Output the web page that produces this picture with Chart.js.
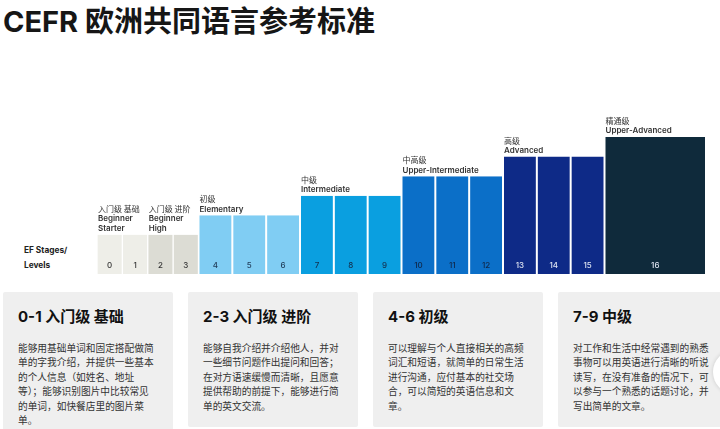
<!DOCTYPE html>
<html lang="zh-CN">
<head>
<meta charset="utf-8">
<title>CEFR 欧洲共同语言参考标准</title>
<script src="https://cdn.jsdelivr.net/npm/chart.js"></script>
<style>
  html, body { margin: 0; padding: 0; background: #fff; }
  body {
    width: 720px; height: 429px; position: relative; overflow: hidden;
    font-family: Inter, "Noto Sans CJK SC", sans-serif; color: #1a1a1a;
  }
  h1 {
    position: absolute; left: 3px; top: 6px; margin: 0;
    font-size: 29px; line-height: 32px; font-weight: 700; color: #161616;
  }
  #stages {
    position: absolute; left: 24px; top: 243px;
    font-size: 8.3px; line-height: 15px; font-weight: 700; color: #222;
  }
  #chart { position: absolute; left: 0; top: 60px; }
  .card {
    position: absolute; top: 292px; width: 170px; height: 135px;
    background: #efefef; border-radius: 2px; box-sizing: border-box;
    padding: 15px 0 0 15px;
  }
  .card h2 { margin: 0; font-size: 15px; line-height: 20px; font-weight: 700; color: #111; }
  .card p {
    margin: 14px 0 0; font-size: 9.7px; line-height: 14.4px; color: #333;
    white-space: nowrap; font-family: "Noto Sans CJK SC", sans-serif;
  }
  #next {
    position: absolute; left: 713px; top: 350px; width: 44px; height: 44px;
    border-radius: 50%; background: #fff; box-shadow: 0 0 4px rgba(0,0,0,0.15);
  }
</style>
</head>
<body>
<h1>CEFR 欧洲共同语言参考标准</h1>
<div id="stages">EF Stages/<br>Levels</div>
<canvas id="chart" width="720" height="220"></canvas>

<div class="card" style="left:3px;height:140px">
  <h2>0-1 入门级 基础</h2>
  <p>能够用基础单词和固定搭配做简<br>单的字我介绍，并提供一些基本<br>的个人信息（如姓名、地址<br>等）；能够识别图片中比较常见<br>的单词，如快餐店里的图片菜<br>单。</p>
</div>
<div class="card" style="left:188px">
  <h2>2-3 入门级 进阶</h2>
  <p>能够自我介绍并介绍他人，并对<br>一些细节问题作出提问和回答；<br>在对方语速缓慢而清晰，且愿意<br>提供帮助的前提下，能够进行简<br>单的英文交流。</p>
</div>
<div class="card" style="left:373px">
  <h2>4-6 初级</h2>
  <p>可以理解与个人直接相关的高频<br>词汇和短语，就简单的日常生活<br>进行沟通，应付基本的社交场<br>合，可以简短的英语信息和文<br>章。</p>
</div>
<div class="card" style="left:558px">
  <h2>7-9 中级</h2>
  <p>对工作和生活中经常遇到的熟悉<br>事物可以用英语进行清晰的听说<br>读写，在没有准备的情况下，可<br>以参与一个熟悉的话题讨论，并<br>写出简单的文章。</p>
</div>
<div id="next"></div>

<script>
// EF levels 0-16, the step height of each level and how wide it sits on the scale
const levels = ['0', '1', '2', '3', '4', '5', '6', '7', '8', '9', '10', '11', '12', '13', '14', '15', '16'];
const levelHeights = [2, 2, 2, 2, 3, 3, 3, 4, 4, 4, 5, 5, 5, 6, 6, 6, 7];
const levelSpans = [0.75, 0.75, 0.75, 0.75, 1, 1, 1, 1, 1, 1, 1, 1, 1, 1, 1, 1, 3];
const levelGroup = [0, 0, 1, 1, 2, 2, 2, 3, 3, 3, 4, 4, 4, 5, 5, 5, 6];

// CEFR stage names
const groupZh = ['入门级 基础', '入门级 进阶', '初级', '中级', '中高级', '高级', '精通级'];
const groupEn = [['Beginner', 'Starter'], ['Beginner', 'High'], ['Elementary'], ['Intermediate'],
  ['Upper-Intermediate'], ['Advanced'], ['Upper-Advanced']];

const groupColors = ['#eeeee8', '#dcdcd4', '#80cdf3', '#0a9fe0', '#0b6fc8', '#0e2a87', '#0f2a3b'];
const numberColors = ['#333', '#333', '#1f3b57', '#14314f', '#10284a', '#dfe5f2', '#dfe5f2'];

// bar centres from the cumulative spans
const centers = [];
let edge = 0;
levelSpans.forEach(s => { centers.push(edge + s / 2); edge += s; });
const totalSpan = edge;
let minGap = Infinity;
for (let i = 1; i < centers.length; i++) minGap = Math.min(minGap, centers[i] - centers[i - 1]);

const datasets = groupZh.map((name, g) => {
  const idx = levels.map((_, i) => i).filter(i => levelGroup[i] === g);
  return {
    label: name,
    data: idx.map(i => ({ x: centers[i], y: levelHeights[i], level: levels[i] })),
    backgroundColor: groupColors[g],
    borderColor: '#fff',
    borderWidth: { left: 1, right: 1, top: 0, bottom: 0 },
    borderSkipped: false,
    grouped: false,
    categoryPercentage: 1,
    // non-grouped bars are sized relative to the smallest gap between centres
    barPercentage: levelSpans[idx[0]] / minGap
  };
});

// stage names above each group and level numbers inside the bars
const stageLabels = {
  id: 'stageLabels',
  afterDatasetsDraw(chart) {
    const ctx = chart.ctx;
    ctx.save();
    chart.data.datasets.forEach((ds, g) => {
      const bars = chart.getDatasetMeta(g).data;
      ctx.textBaseline = 'middle';
      ctx.textAlign = 'center';
      ctx.font = '500 8px Inter, sans-serif';
      ctx.fillStyle = numberColors[g];
      bars.forEach((bar, k) => ctx.fillText(ds.data[k].level, bar.x, bar.base - 8));

      const first = bars[0];
      const left = first.x - first.width / 2 + 1;
      const lines = [groupZh[g], ...groupEn[g]];
      ctx.textAlign = 'left';
      ctx.fillStyle = '#333';
      lines.forEach((t, k) => {
        ctx.font = k === 0 ? '400 8px "Noto Sans CJK SC", sans-serif' : '600 8px Inter, sans-serif';
        ctx.fillText(t, left, first.y - 6 - (lines.length - 1 - k) * 10);
      });
    });
    ctx.restore();
  }
};

new Chart(document.getElementById('chart').getContext('2d'), {
  type: 'bar',
  data: { datasets },
  options: {
    responsive: false,
    animation: false,
    layout: { padding: { left: 97, right: 14, top: 77, bottom: 6 } },
    scales: {
      x: {
        type: 'linear', min: 0, max: totalSpan, offset: false, display: false,
        grid: { offset: false }, ticks: { stepSize: totalSpan }
      },
      y: { min: 0, max: 7, display: false }
    },
    plugins: { legend: { display: false }, tooltip: { enabled: false } }
  },
  plugins: [stageLabels]
});
</script>
</body>
</html>
